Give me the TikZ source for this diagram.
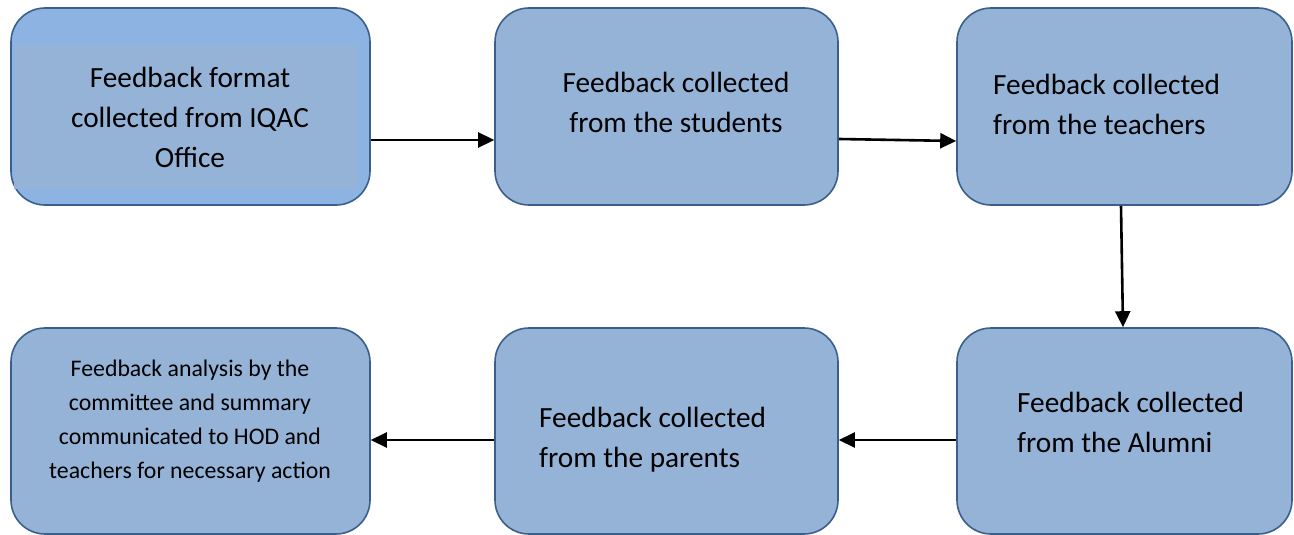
\documentclass[tikz,border=0pt]{standalone}
\usepackage{fontspec}
\setmainfont{Carlito}
\usetikzlibrary{arrows.meta}
\definecolor{boxfill}{HTML}{95B3D7}
\definecolor{boxouter}{HTML}{8DB3E2}
\definecolor{boxline}{HTML}{3A5F8C}
\tikzset{
  stagebox/.style={draw=boxline, line width=1.6pt, fill=boxfill, rounded corners=34pt, inner sep=0pt},
  bigtext/.style={inner sep=0pt, font=\fontsize{29.3}{40}\selectfont},
  smalltext/.style={inner sep=0pt, font=\fontsize{23.8}{34}\selectfont, align=center},
  arr/.style={-{Triangle[length=16pt,width=15pt]}, line width=2.6pt, black}
}
\begin{document}
\begin{tikzpicture}[x=1pt,y=-1pt]
\useasboundingbox (0,0) rectangle (1294,535);
\clip (0,0) rectangle (1294,535);
% top row
\node[stagebox, fill=boxouter, minimum width=359pt, minimum height=197pt] (b1) at (190.5,106.5) {};
\fill[boxfill] (14,45) rectangle (357,189);
\node[stagebox, minimum width=343pt, minimum height=197pt] (b2) at (666.5,106.5) {};
\node[stagebox, minimum width=335pt, minimum height=197pt] (b3) at (1124.5,106.5) {};
% bottom row
\node[stagebox, minimum width=335pt, minimum height=206pt] (b4) at (1124.5,431) {};
\node[stagebox, minimum width=343pt, minimum height=206pt] (b5) at (666.5,431) {};
\node[stagebox, minimum width=359pt, minimum height=206pt] (b6) at (190.5,431) {};
% texts
\node[bigtext, align=center] (t1) at (190,117) {Feedback format\\collected from IQAC\\Office};
\node[bigtext, align=center] (t2) at (676,102) {Feedback collected\\from the students};
\node[bigtext, align=left, anchor=west] (t3) at (993,104) {Feedback collected\\from the teachers};
\node[bigtext, align=left, anchor=west] (t4) at (1017,422) {Feedback collected\\from the Alumni};
\node[bigtext, align=left, anchor=west] (t5) at (539,440) {Feedback collected\\from the parents};
\node[smalltext] (t6) at (190,421) {Feedback analysis by the\\committee and summary\\communicated to HOD and\\teachers for necessary action};
% connectors
\draw[arr] ([yshift=-33.5pt]b1.east) -- ([yshift=-33.5pt]b2.west);
\draw[arr] ([yshift=-32.5pt]b2.east) -- ([yshift=-34.5pt]b3.west);
\draw[arr] ([xshift=-3.5pt]b3.south) -- ([xshift=-1.5pt]b4.north);
\draw[arr] ([yshift=-9pt]b4.west) -- ([yshift=-9pt]b5.east);
\draw[arr] ([yshift=-9pt]b5.west) -- ([yshift=-9pt]b6.east);
\end{tikzpicture}
\end{document}
